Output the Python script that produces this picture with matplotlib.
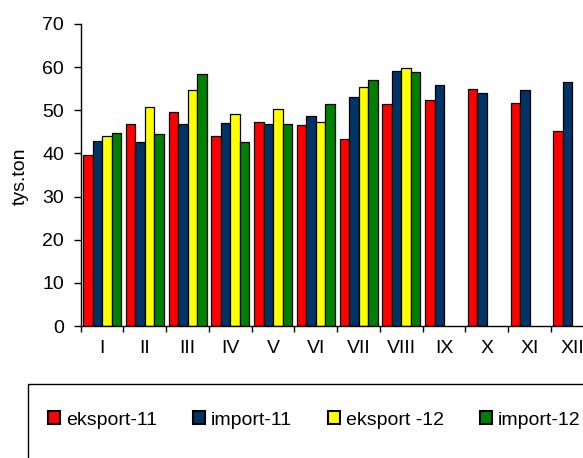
import numpy as np
import matplotlib
matplotlib.use("Agg")
import matplotlib.pyplot as plt
from matplotlib.patches import Rectangle

plt.rcParams['font.family'] = ['Liberation Sans', 'DejaVu Sans']

# data (tys. ton per month)
months = ['I', 'II', 'III', 'IV', 'V', 'VI', 'VII', 'VIII', 'IX', 'X', 'XI', 'XII']
eksport_11 = [39.6, 46.9, 49.6, 44.0, 47.4, 46.7, 43.3, 51.5, 52.5, 54.9, 51.8, 45.2]
import_11 = [42.9, 42.7, 46.9, 47.1, 46.9, 48.6, 53.1, 59.2, 55.9, 54.0, 54.7, 56.5]
eksport_12 = [44.0, 50.8, 54.6, 49.2, 50.2, 47.2, 55.5, 59.8, np.nan, np.nan, np.nan, np.nan]
import_12 = [44.7, 44.4, 58.3, 42.7, 46.8, 51.5, 57.1, 58.9, np.nan, np.nan, np.nan, np.nan]

series = [
    ('eksport-11', eksport_11, '#FF0000'),
    ('import-11', import_11, '#003366'),
    ('eksport -12', eksport_12, '#FFFF00'),
    ('import-12', import_12, '#008000'),
]

fig = plt.figure(figsize=(5.83, 4.58), dpi=100)
ax = fig.add_axes([0.1384, 0.2882, 0.880, 0.6594])

x = np.arange(len(months))
w = 0.222
handles = []
for i, (name, vals, col) in enumerate(series):
    b = ax.bar(x + (i - 1.5) * w, vals, width=w, color=col,
               edgecolor='black', linewidth=0.9, label=name)
    handles.append(b)

ax.set_xlim(-0.5, len(months) - 0.5)
ax.set_ylim(0, 70)
ax.set_yticks(range(0, 71, 10))

# labels at the centres, tick marks at the category borders
ax.set_xticks(x)
ax.set_xticklabels(months)
ax.set_xticks(np.arange(len(months) + 1) - 0.5, minor=True)
ax.tick_params(axis='x', which='major', length=0, pad=10, labelsize=14)
ax.tick_params(axis='x', which='minor', length=4.5, width=1.0, direction='out')
ax.tick_params(axis='y', length=5, width=1.0, pad=7, labelsize=14)

for s in ['top', 'right']:
    ax.spines[s].set_visible(False)
for s in ['left', 'bottom']:
    ax.spines[s].set_linewidth(1.0)

fig.text(20 / 583, 1 - 176 / 458, 'tys.ton', rotation=90,
         ha='center', va='center', fontsize=14)

# legend box runs off the bottom-right of the picture
box = Rectangle((28.3 / 583, -0.2), 1.2, 0.2 + (458 - 384) / 458,
                transform=fig.transFigure, fill=False, edgecolor='black',
                linewidth=1.0, clip_on=False)
fig.patches.append(box)

leg = fig.legend(handles=handles, loc='center left',
                 bbox_to_anchor=(48.3 / 583, 1 - 420 / 458), ncol=4,
                 frameon=False, fontsize=14, borderpad=0, borderaxespad=0,
                 handlelength=0.62, handleheight=0.62, handletextpad=0.3,
                 columnspacing=1.85)
for p in leg.get_patches():
    p.set_linewidth(1.5)

fig.savefig('out.png', dpi=100)
